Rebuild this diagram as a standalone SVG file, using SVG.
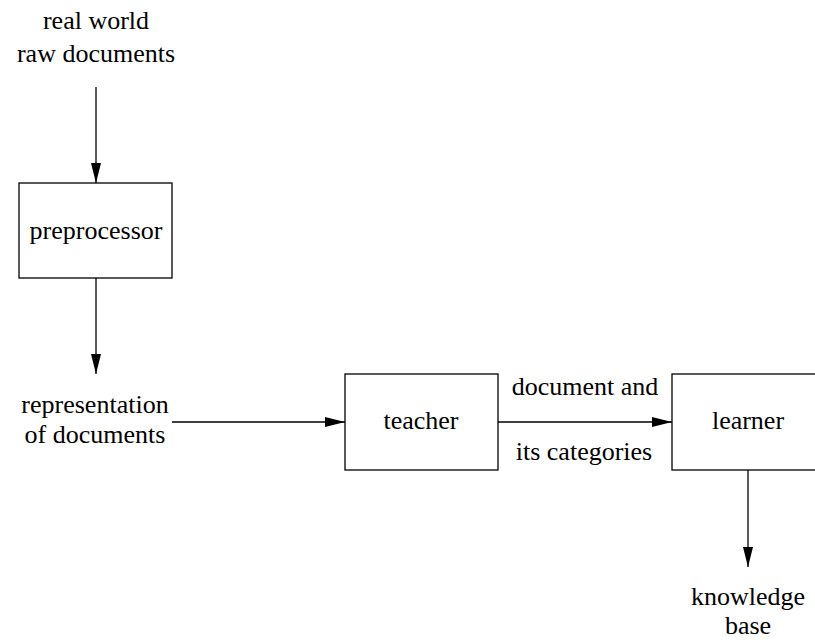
<svg xmlns="http://www.w3.org/2000/svg" width="815" height="640" viewBox="0 0 815 640">
<defs>
<style>
text{font-family:"Liberation Serif","Times New Roman",serif;font-size:26px;fill:#000;text-anchor:middle}
.box{fill:#fff;stroke:#000;stroke-width:1.3}
.edge{stroke:#000;stroke-width:1.3;fill:none}
</style>
<marker id="ah" markerWidth="20" markerHeight="10" refX="20" refY="5" orient="auto" markerUnits="userSpaceOnUse">
<path d="M0,0 L20,5 L0,10 Z" fill="#000"/>
</marker>
</defs>
<rect width="815" height="640" fill="#fff"/>
<g id="connectors">
<line class="edge" x1="96" y1="87" x2="96" y2="183" marker-end="url(#ah)"/>
<line class="edge" x1="96" y1="278" x2="96" y2="374" marker-end="url(#ah)"/>
<line class="edge" x1="172" y1="422" x2="345" y2="422" marker-end="url(#ah)"/>
<line class="edge" x1="498" y1="422" x2="672" y2="422" marker-end="url(#ah)"/>
<line class="edge" x1="748" y1="470" x2="748" y2="567" marker-end="url(#ah)"/>
<text x="585" y="395">document and</text>
<text x="584" y="460">its categories</text>
</g>
<g id="source">
<text x="96" y="29">real world</text>
<text x="96" y="62">raw documents</text>
</g>
<g id="preprocessor">
<rect class="box" x="19" y="183" width="153" height="95"/>
<text x="96" y="239">preprocessor</text>
</g>
<g id="representation">
<text x="95" y="413">representation</text>
<text x="95" y="443">of documents</text>
</g>
<g id="teacher">
<rect class="box" x="345" y="374" width="153" height="96"/>
<text x="421" y="429">teacher</text>
</g>
<g id="learner">
<rect class="box" x="672" y="374" width="153" height="96"/>
<text x="748" y="429">learner</text>
</g>
<g id="knowledge">
<text x="748" y="605">knowledge</text>
<text x="748" y="634">base</text>
</g>
</svg>
